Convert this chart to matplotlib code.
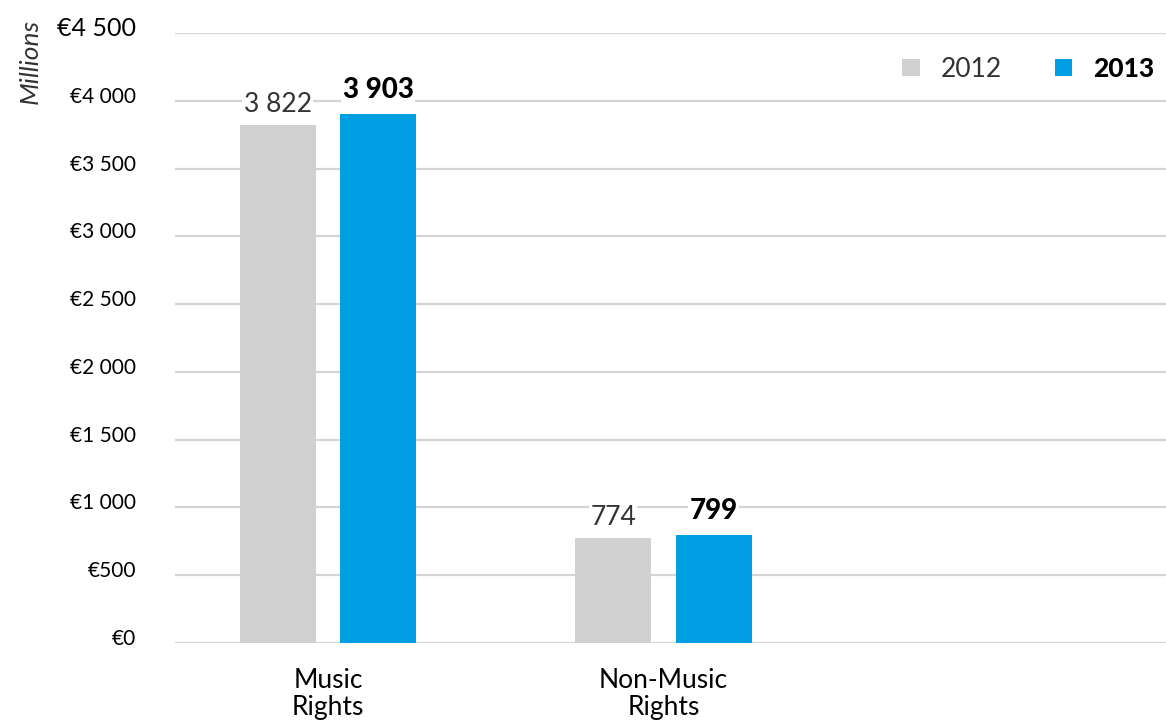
import numpy as np
import matplotlib
matplotlib.use("Agg")
import matplotlib.pyplot as plt
import matplotlib.transforms as mtransforms
from matplotlib.patches import Patch

plt.rcParams['font.family'] = ['Lato', 'DejaVu Sans']

categories = ["Music\nRights", "Non-Music\nRights", ""]
years = ["2012", "2013"]
vals_2012 = [3822, 774]
vals_2013 = [3903, 799]
yticks = [0, 500, 1000, 1500, 2000, 2500, 3000, 3500, 4000, 4500]
ytick_labels = ["€0", "€500", "€1 000", "€1 500", "€2 000", "€2 500",
                "€3 000", "€3 500", "€4 000", "€4 500"]

grey = "#D0D0D0"
blue = "#009FE3"
grid = "#D4D4D4"

fig = plt.figure(figsize=(11.66, 7.24), dpi=100)
ax = fig.add_axes([175 / 1166, 1 - 643 / 724, 1 - 175 / 1166, (643 - 33) / 724])

x = np.arange(len(vals_2012))
w = 0.2265
off = 0.15
b1 = ax.bar(x - off, vals_2012, w, color=grey, zorder=2)
b2 = ax.bar(x + off, vals_2013, w, color=blue, zorder=2)

ax.set_ylim(0, 4500)
ax.set_xlim(-0.456, 2.498)
ax.set_yticks(yticks)
ax.set_yticklabels(ytick_labels, fontsize=15)
ax.set_xticks(np.arange(len(categories)))
ax.set_xticklabels(categories, fontsize=19, linespacing=1.1)
ax.tick_params(axis="y", length=0, pad=28)
ax.tick_params(axis="x", length=0, pad=18)
shift = mtransforms.ScaledTranslation(0, 6 / 100, fig.dpi_scale_trans)
for lab in ax.get_yticklabels():
    lab.set_transform(lab.get_transform() + shift)
ax.get_yticklabels()[-1].set_fontsize(18)

for s in ax.spines.values():
    s.set_visible(False)
ax.yaxis.grid(True, color=grid, linewidth=1.6, zorder=0)
ax.set_axisbelow(True)

def fmt(v):
    return f"{v:,}".replace(",", " ")

for rect, v in zip(b1, vals_2012):
    ax.annotate(fmt(v), (rect.get_x() + rect.get_width() / 2, v),
                xytext=(0, 6), textcoords="offset points", ha="center",
                va="bottom", fontsize=19, color="#333333",
                bbox=dict(facecolor="white", edgecolor="none", pad=1))
for rect, v in zip(b2, vals_2013):
    ax.annotate(fmt(v), (rect.get_x() + rect.get_width() / 2, v),
                xytext=(0, 8), textcoords="offset points", ha="center",
                va="bottom", fontsize=20, fontweight="black", color="black",
                bbox=dict(facecolor="white", edgecolor="none", pad=1))

fig.text(30 / 1166, 1 - 62 / 724, "Millions", rotation=90, style="italic",
         fontsize=19, ha="center", va="center", color="#333333")

handles = [Patch(facecolor=grey, edgecolor="none"),
           Patch(facecolor=blue, edgecolor="none")]
leg = ax.legend(handles, years, loc="upper right", bbox_to_anchor=(1.012, 1.0),
                ncol=2, frameon=False, fontsize=19, handlelength=0.65,
                handleheight=0.65, handletextpad=0.8, columnspacing=2.0)
leg.get_texts()[0].set_color("#333333")
leg.get_texts()[1].set_fontweight("black")

fig.savefig("out.png", dpi=100)
